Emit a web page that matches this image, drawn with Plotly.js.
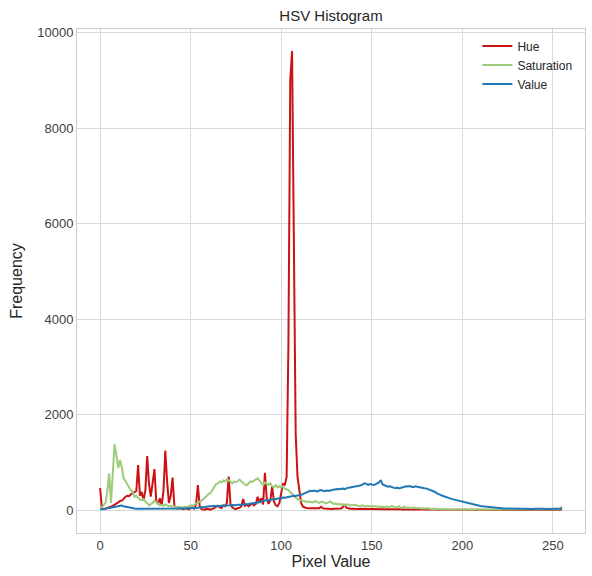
<!DOCTYPE html>
<html>
<head>
<meta charset="utf-8">
<script src="https://cdn.plot.ly/plotly-3.0.1.min.js"></script>
<style>html,body{margin:0;padding:0;background:#fff;}#chart{width:592px;height:576px;}</style>
</head>
<body>
<div id="chart"></div>
<script>
// Pixel values 0..255 (bin index)
const pixelValues = Array.from({length: 256}, (_, i) => i);

const hue = [
  460, 40, 20, 30, 40, 60, 70, 90, 110, 140,
  160, 190, 200, 230, 280, 300, 290, 330, 360, 380,
  400, 945, 300, 380, 200, 420, 1130, 550, 280, 565,
  860, 200, 120, 250, 100, 400, 1245, 600, 150, 300,
  680, 100, 40, 30, 50, 30, 20, 40, 30, 20,
  40, 60, 30, 120, 525, 80, 20, 20, 10, 30,
  20, 10, 30, 40, 70, 90, 60, 40, 100, 80,
  150, 700, 120, 60, 30, 20, 40, 50, 80, 230,
  90, 110, 80, 120, 140, 100, 130, 280, 150, 250,
  120, 780, 250, 130, 200, 490, 180, 100, 80, 150,
  400, 560, 520, 700, 3500, 9000, 9620, 4800, 1600, 700,
  400, 150, 70, 50, 45, 40, 40, 40, 35, 40,
  45, 40, 70, 40, 35, 30, 35, 30, 25, 30,
  35, 30, 40, 35, 60, 125, 50, 35, 30, 30,
  25, 30, 28, 25, 30, 26, 24, 28, 25, 22,
  25, 22, 20, 24, 22, 20, 22, 20, 18, 20,
  20, 18, 20, 17, 18, 16, 18, 15, 17, 15,
  16, 15, 14, 15, 13, 14, 12, 14, 12, 13,
  12, 11, 12, 10, 11, 10, 11, 9, 10, 9,
  10, 8, 9, 8, 8, 7, 8, 7, 7, 6,
  7, 6, 6, 5, 6, 5, 5, 5, 4, 5,
  4, 4, 4, 3, 4, 3, 3, 3, 3, 2,
  3, 2, 2, 2, 2, 2, 2, 1, 2, 1,
  1, 1, 1, 1, 1, 1, 1, 1, 1, 1,
  1, 1, 1, 1, 1, 1, 1, 1, 1, 1,
  1, 1, 1, 1, 1, 30
];

const saturation = [
  20, 60, 100, 150, 400, 770, 150, 700, 1380, 1150,
  880, 1050, 900, 670, 600, 520, 480, 420, 380, 280,
  300, 260, 220, 210, 230, 180, 150, 100, 120, 150,
  200, 160, 120, 100, 110, 90, 120, 100, 80, 90,
  70, 80, 60, 70, 60, 50, 60, 70, 60, 80,
  100, 90, 110, 130, 150, 170, 200, 230, 260, 300,
  340, 360, 420, 480, 540, 560, 600, 580, 620, 600,
  640, 620, 600, 560, 600, 580, 620, 640, 600, 560,
  540, 520, 560, 600, 590, 620, 650, 670, 620, 560,
  520, 580, 560, 530, 560, 500, 480, 520, 480, 500,
  470, 500, 450, 440, 420, 380, 330, 300, 260, 230,
  210, 200, 190, 180, 175, 170, 180, 160, 170, 190,
  165, 150, 170, 180, 150, 140, 160, 180, 150, 130,
  140, 120, 130, 110, 125, 100, 110, 120, 95, 100,
  90, 110, 95, 80, 90, 100, 85, 75, 90, 80,
  70, 85, 75, 70, 80, 65, 70, 60, 75, 65,
  60, 90, 70, 55, 60, 80, 55, 50, 70, 45,
  60, 50, 40, 55, 45, 40, 50, 35, 40, 30,
  35, 40, 30, 25, 30, 25, 20, 25, 20, 15,
  20, 15, 18, 14, 15, 12, 14, 12, 13, 11,
  12, 10, 11, 10, 10, 9, 10, 9, 9, 8,
  9, 8, 8, 7, 8, 7, 7, 6, 7, 6,
  6, 6, 5, 6, 5, 5, 5, 5, 4, 5,
  4, 5, 4, 4, 4, 4, 4, 3, 4, 3,
  3, 4, 3, 3, 3, 4, 3, 3, 4, 5,
  5, 6, 8, 10, 20, 80
];

const value = [
  10, 15, 20, 25, 30, 40, 50, 60, 70, 80,
  90, 100, 95, 80, 70, 60, 55, 50, 40, 35,
  30, 30, 25, 30, 25, 20, 25, 30, 25, 20,
  25, 30, 25, 30, 35, 30, 25, 30, 35, 30,
  30, 35, 30, 35, 40, 35, 30, 35, 40, 35,
  40, 45, 40, 45, 50, 55, 60, 70, 75, 70,
  80, 75, 85, 90, 80, 85, 95, 90, 85, 100,
  95, 90, 100, 105, 95, 100, 110, 105, 115, 110,
  120, 115, 125, 140, 135, 150, 145, 160, 170, 165,
  180, 190, 210, 200, 215, 225, 220, 235, 240, 250,
  245, 265, 260, 270, 280, 275, 290, 300, 295, 310,
  315, 320, 340, 360, 380, 390, 405, 395, 410, 400,
  390, 410, 420, 405, 395, 410, 400, 405, 420, 430,
  425, 440, 435, 445, 450, 440, 460, 470, 475, 480,
  490, 485, 500, 510, 520, 540, 560, 550, 530, 545,
  535, 525, 540, 560, 580, 630, 540, 520, 500, 490,
  500, 480, 470, 460, 470, 455, 470, 480, 490, 500,
  495, 505, 490, 480, 500, 490, 475, 480, 470, 460,
  455, 440, 430, 415, 400, 380, 350, 340, 320, 300,
  285, 265, 260, 245, 235, 225, 215, 210, 200, 185,
  175, 165, 150, 140, 130, 125, 115, 105, 100, 90,
  85, 80, 75, 70, 65, 60, 55, 50, 45, 42,
  40, 38, 35, 33, 35, 32, 30, 32, 28, 30,
  28, 30, 27, 29, 26, 28, 25, 27, 26, 25,
  27, 24, 26, 25, 24, 26, 25, 23, 25, 24,
  26, 25, 27, 28, 30, 35
];

const seriesNames = ['Hue', 'Saturation', 'Value'];
const seriesColors = ['#cc1212', '#9ccb79', '#2078b4'];
const seriesData = [hue, saturation, value];

const xTicks = [0, 50, 100, 150, 200, 250];
const yTicks = [0, 2000, 4000, 6000, 8000, 10000];

const traces = seriesData.map((ys, i) => ({
  x: pixelValues,
  y: ys,
  type: 'scatter',
  mode: 'lines',
  name: seriesNames[i],
  line: {color: seriesColors[i], width: 2}
}));

const textColor = '#262626';
const gridColor = '#d9d9d9';

const layout = {
  width: 592,
  height: 576,
  margin: {l: 77, r: 7, t: 29, b: 43},
  paper_bgcolor: '#ffffff',
  plot_bgcolor: '#ffffff',
  font: {family: 'Liberation Sans, Arial, sans-serif', color: textColor, size: 13},
  title: {
    text: 'HSV Histogram',
    font: {size: 15, color: textColor},
    x: 0.5, xref: 'paper', xanchor: 'center',
    y: 1 - 16/576, yref: 'container', yanchor: 'middle'
  },
  xaxis: {
    title: {text: 'Pixel Value', font: {size: 16, color: textColor}, standoff: 4},
    range: [-12.75, 267.75],
    tickvals: xTicks,
    ticktext: xTicks.map(String),
    showgrid: true, gridcolor: gridColor, gridwidth: 1,
    zeroline: false,
    showline: true, linecolor: '#cccccc', linewidth: 1, mirror: true,
    ticks: '', tickfont: {size: 13, color: '#404040'}
  },
  yaxis: {
    title: {text: 'Frequency', font: {size: 16, color: textColor}, standoff: 10},
    range: [-480, 10080],
    tickvals: yTicks,
    ticktext: yTicks.map(String),
    showgrid: true, gridcolor: gridColor, gridwidth: 1,
    zeroline: false,
    showline: true, linecolor: '#cccccc', linewidth: 1, mirror: true,
    ticks: '', tickfont: {size: 13, color: '#404040'}
  },
  legend: {
    x: 0.985, xanchor: 'right', y: 0.995, yanchor: 'top',
    bgcolor: 'rgba(255,255,255,0)',
    font: {size: 12, color: textColor},
    itemwidth: 30,
    tracegroupgap: 0
  },
  showlegend: true
};

Plotly.newPlot('chart', traces, layout, {displayModeBar: false, staticPlot: true});
</script>
</body>
</html>
